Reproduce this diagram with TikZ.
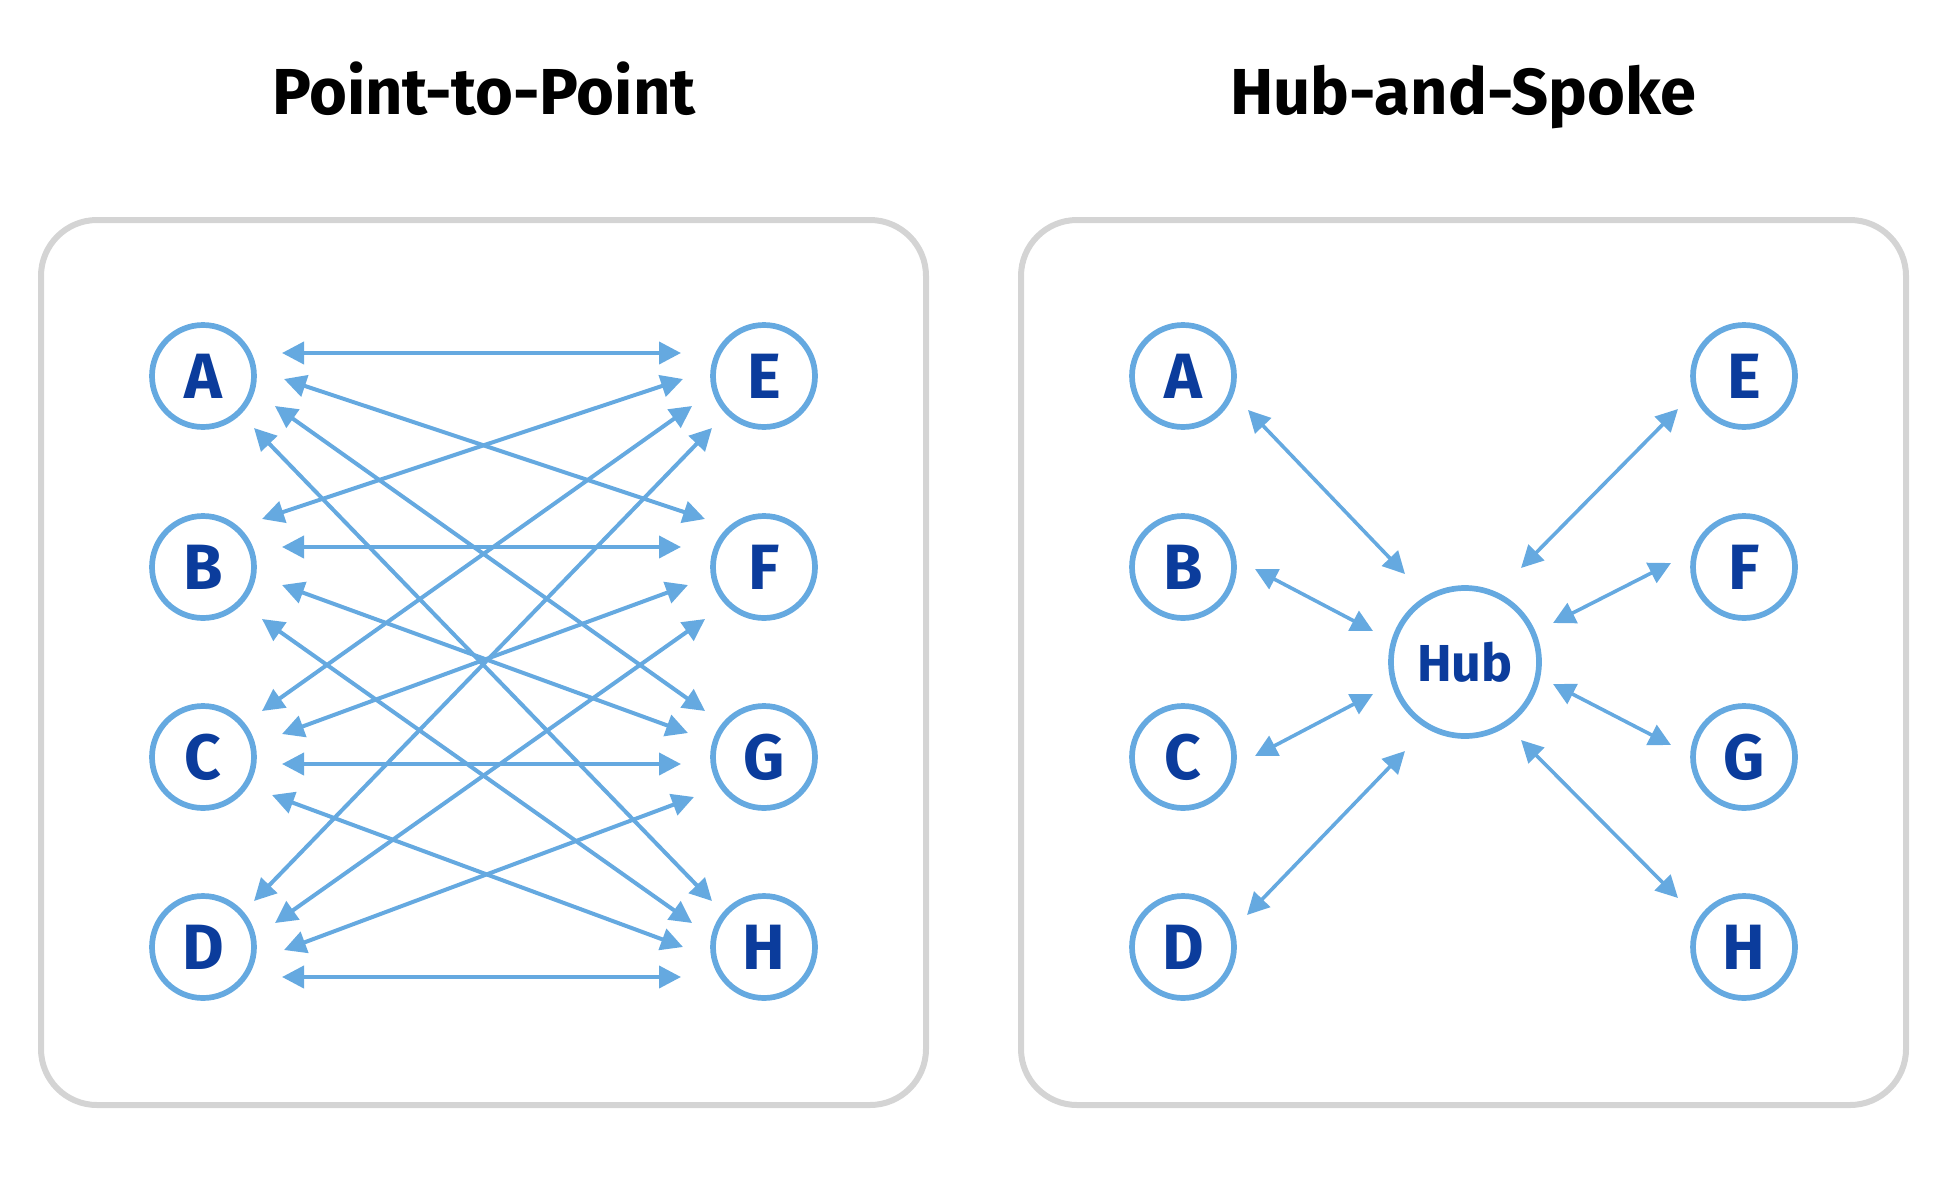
\documentclass[tikz,border=0pt]{standalone}
\usepackage{fontspec}
\setmainfont{Fira Sans}
\usetikzlibrary{arrows.meta}
\definecolor{spoke}{HTML}{65A9E0}
\definecolor{ink}{HTML}{0B3C9C}
\definecolor{frame}{HTML}{D4D4D4}
\begin{document}
\begin{tikzpicture}[x=0.5pt,y=-0.5pt,
  panel/.style={draw=frame,line width=3pt,rounded corners=28pt},
  title/.style={anchor=base,font=\fontsize{32.5}{38}\selectfont\bfseries},
  station/.style={circle,draw=spoke,line width=2.85pt,fill=white,inner sep=0pt,
    minimum size=51pt,text=ink,font=\fontsize{32}{36}\selectfont\bfseries},
  hubnode/.style={station,minimum size=74pt,font=\fontsize{26}{30}\selectfont\bfseries},
  link/.style={draw=spoke,line width=2pt,{Triangle[length=11pt,width=11pt]}-{Triangle[length=11pt,width=11pt]}},
  spokelink/.style={link,line width=1.8pt}]
\useasboundingbox (0,0) rectangle (1946,1183);
\node [title] (ptitle) at (484,114) {Point-to-Point};
\node [title] (stitle) at (1463,114) {Hub-and-Spoke};
\draw [panel] (41,220) rectangle (926,1105);
\draw [panel] (1021,220) rectangle (1906,1105);
% point-to-point
\node [station] (pA) at (203,376) {A};
\node [station] (pB) at (203,567) {B};
\node [station] (pC) at (203,757) {C};
\node [station] (pD) at (203,947) {D};
\node [station] (pE) at (764,376) {E};
\node [station] (pF) at (764,567) {F};
\node [station] (pG) at (764,757) {G};
\node [station] (pH) at (764,947) {H};
\draw [link] ([shift={(79,-23)}]pA.center) -- ([shift={(-83,-23)}]pE.center);
\draw [link] ([shift={(81,3)}]pA.center) -- ([shift={(-59,-48)}]pF.center);
\draw [link] ([shift={(72,30)}]pA.center) -- ([shift={(-59,-46)}]pG.center);
\draw [link] ([shift={(51,52)}]pA.center) -- ([shift={(-52,-46)}]pH.center);
\draw [link] ([shift={(59,-48)}]pB.center) -- ([shift={(-81,3)}]pE.center);
\draw [link] ([shift={(79,-20)}]pB.center) -- ([shift={(-83,-20)}]pF.center);
\draw [link] ([shift={(79,18)}]pB.center) -- ([shift={(-76,-24)}]pG.center);
\draw [link] ([shift={(59,52)}]pB.center) -- ([shift={(-72,-24)}]pH.center);
\draw [link] ([shift={(59,-46)}]pC.center) -- ([shift={(-72,30)}]pE.center);
\draw [link] ([shift={(79,-23)}]pC.center) -- ([shift={(-76,18)}]pF.center);
\draw [link] ([shift={(79,7)}]pC.center) -- ([shift={(-83,7)}]pG.center);
\draw [link] ([shift={(69,38)}]pC.center) -- ([shift={(-81,0)}]pH.center);
\draw [link] ([shift={(51,-46)}]pD.center) -- ([shift={(-52,52)}]pE.center);
\draw [link] ([shift={(72,-24)}]pD.center) -- ([shift={(-59,52)}]pF.center);
\draw [link] ([shift={(81,3)}]pD.center) -- ([shift={(-70,40)}]pG.center);
\draw [link] ([shift={(79,30)}]pD.center) -- ([shift={(-83,30)}]pH.center);
% hub-and-spoke
\node [station] (sA) at (1183,376) {A};
\node [station] (sB) at (1183,567) {B};
\node [station] (sC) at (1183,757) {C};
\node [station] (sD) at (1183,947) {D};
\node [station] (sE) at (1744,376) {E};
\node [station] (sF) at (1744,567) {F};
\node [station] (sG) at (1744,757) {G};
\node [station] (sH) at (1744,947) {H};
\node [hubnode] (hub) at (1465,662) {Hub};
\draw [spokelink] ([shift={(65,34)}]sA.center) -- ([shift={(-60,-88)}]hub.center);
\draw [spokelink] ([shift={(72,2)}]sB.center) -- ([shift={(-92,-31)}]hub.center);
\draw [spokelink] ([shift={(72,-1)}]sC.center) -- ([shift={(-92,32)}]hub.center);
\draw [spokelink] ([shift={(64,-32)}]sD.center) -- ([shift={(-60,89)}]hub.center);
\draw [spokelink] ([shift={(-66,33)}]sE.center) -- ([shift={(56,-94)}]hub.center);
\draw [spokelink] ([shift={(-73,-4)}]sF.center) -- ([shift={(88,-39)}]hub.center);
\draw [spokelink] ([shift={(-73,-12)}]sG.center) -- ([shift={(88,22)}]hub.center);
\draw [spokelink] ([shift={(-66,-49)}]sH.center) -- ([shift={(56,78)}]hub.center);
\end{tikzpicture}
\end{document}
